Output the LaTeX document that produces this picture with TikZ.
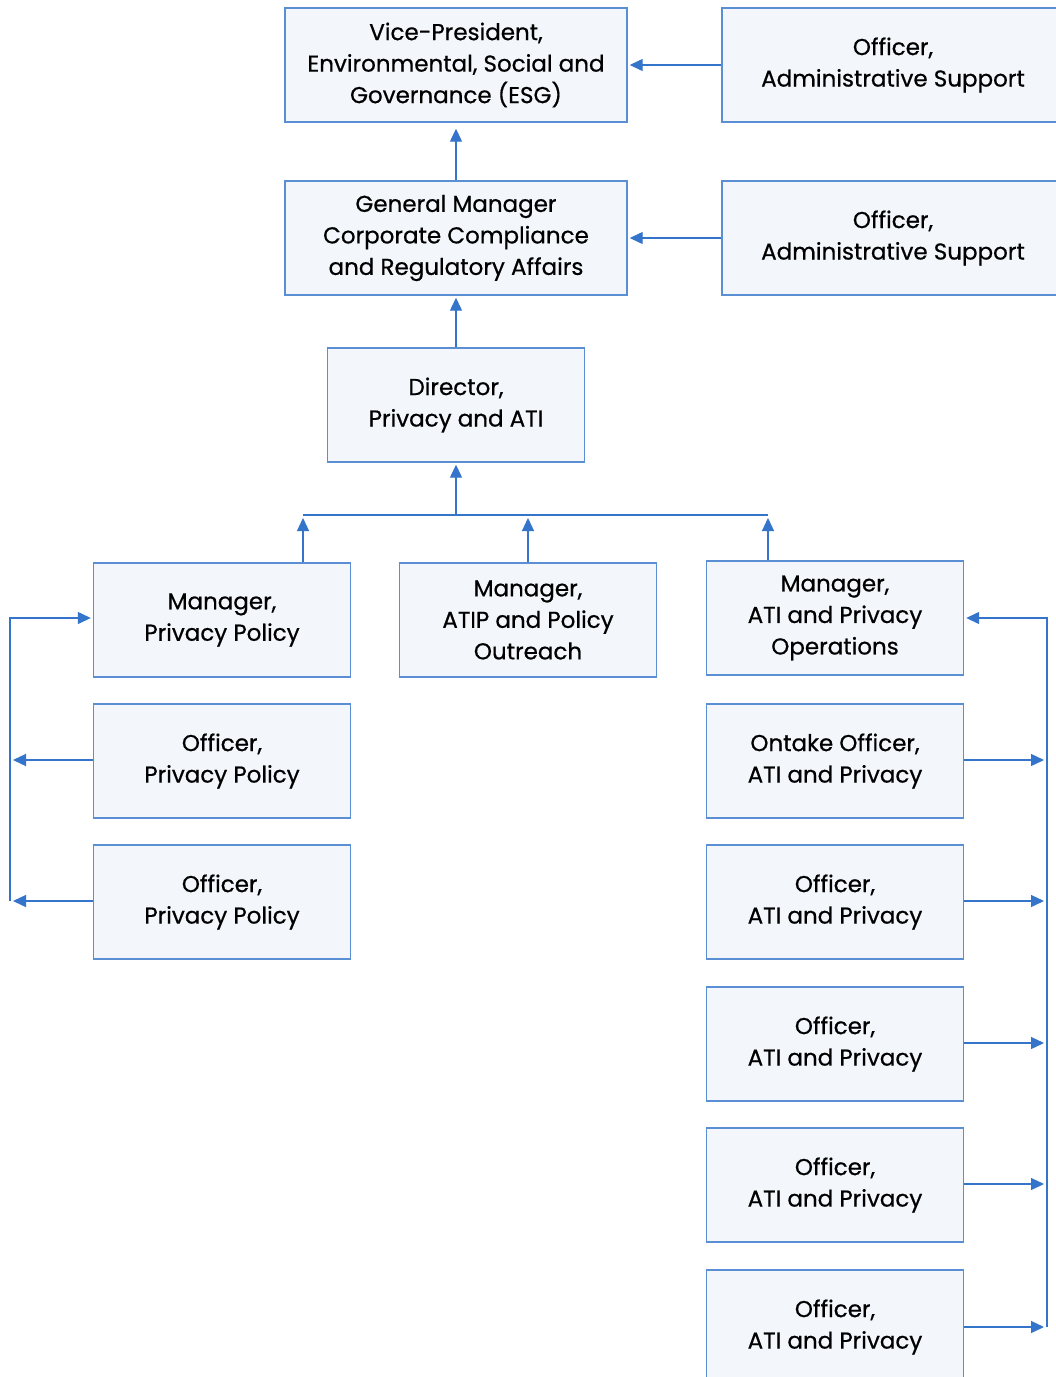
\documentclass[tikz,border=0pt]{standalone}
\usepackage{fontspec}
\setmainfont{Poppins}[UprightFeatures={FakeBold=0.6}]
\usetikzlibrary{arrows.meta}
\definecolor{boxline}{HTML}{5B8FD3}
\definecolor{boxfill}{HTML}{F3F6FB}
\definecolor{arrowc}{HTML}{3474CB}
\tikzset{
  box/.style={draw=boxline, fill=boxfill, line width=1.4pt, align=center,
    font=\fontsize{23}{31.5}\selectfont, text=black, inner sep=0pt},
  bigbox/.style={box, minimum width=342pt, minimum height=114pt},
  smallbox/.style={box, minimum width=257pt, minimum height=114pt},
  arr/.style={draw=arrowc, line width=1.3pt, -{Triangle[length=13pt,width=12pt]}},
  conn/.style={draw=arrowc, line width=1.3pt}
}
\begin{document}
\begin{tikzpicture}[x=1pt,y=-1pt]
\useasboundingbox[fill=white] (0,0) rectangle (1056,1377);
% top
\node[bigbox] (vp) at (456,65) {Vice-President,\\Environmental, Social and\\Governance (ESG)};
\node[bigbox] (adm1) at (893,65) {Officer,\\Administrative Support};
\node[bigbox] (gm) at (456,238) {General Manager\\Corporate Compliance\\and Regulatory Affairs};
\node[bigbox] (adm2) at (893,238) {Officer,\\Administrative Support};
\node[smallbox] (dir) at (456,405) {Director,\\Privacy and ATI};
% managers
\node[smallbox] (mpp) at (222,620) {Manager,\\Privacy Policy};
\node[smallbox] (matip) at (528,620) {Manager,\\ATIP and Policy\\Outreach};
\node[smallbox] (mops) at (835,618) {Manager,\\ATI and Privacy\\Operations};
% left officers
\node[smallbox] (opp1) at (222,761) {Officer,\\Privacy Policy};
\node[smallbox] (opp2) at (222,902) {Officer,\\Privacy Policy};
% right officers
\node[smallbox] (ont) at (835,761) {Ontake Officer,\\ATI and Privacy};
\node[smallbox] (oap1) at (835,902) {Officer,\\ATI and Privacy};
\node[smallbox] (oap2) at (835,1044) {Officer,\\ATI and Privacy};
\node[smallbox] (oap3) at (835,1185) {Officer,\\ATI and Privacy};
\node[smallbox] (oap4) at (835,1327) {Officer,\\ATI and Privacy};
% top connectors
\draw[arr, shorten >=2pt] (adm1.west) -- (vp.east);
\draw[arr, shorten >=2pt] (adm2.west) -- (gm.east);
\draw[arr, shorten >=6pt] (gm.north) -- (vp.south);
\draw[arr, shorten >=2pt] (dir.north) -- (gm.south);
% bus
\coordinate (busL) at (303,515);
\coordinate (busM) at (456,515);
\coordinate (busR) at (768,515);
\draw[conn] (busL) -- (busR);
\draw[arr, shorten >=2pt] (busM) -- (dir.south);
\draw[arr, shorten >=3pt] (busL |- mpp.north) -- (busL);
\draw[arr, shorten >=3pt] (matip.north) -- (matip.north |- busL);
\draw[arr, shorten >=3pt] (busR |- mops.north) -- (busR);
% left loop
\coordinate (L1) at (10,618);
\coordinate (L3) at (10,901);
\draw[arr, shorten >=2pt] (L3) -- (L1) -- (mpp.west |- L1);
\draw[arr, shorten >=3pt] (opp1.west |- 0,760) -- (L1 |- 0,760);
\draw[arr, shorten >=3pt] (opp2.west |- L3) -- (L3);
% right loop
\coordinate (R1) at (1047,618);
\coordinate (R6) at (1047,1327);
\draw[arr, shorten >=2pt] (R6) -- (R1) -- (mops.east |- R1);
\draw[arr, shorten >=3pt] (ont.east |- 0,760) -- (R1 |- 0,760);
\draw[arr, shorten >=3pt] (oap1.east |- 0,901) -- (R1 |- 0,901);
\draw[arr, shorten >=3pt] (oap2.east |- 0,1043) -- (R1 |- 0,1043);
\draw[arr, shorten >=3pt] (oap3.east |- 0,1184) -- (R1 |- 0,1184);
\draw[arr, shorten >=3pt] (oap4.east |- R6) -- (R6);
\end{tikzpicture}
\end{document}
